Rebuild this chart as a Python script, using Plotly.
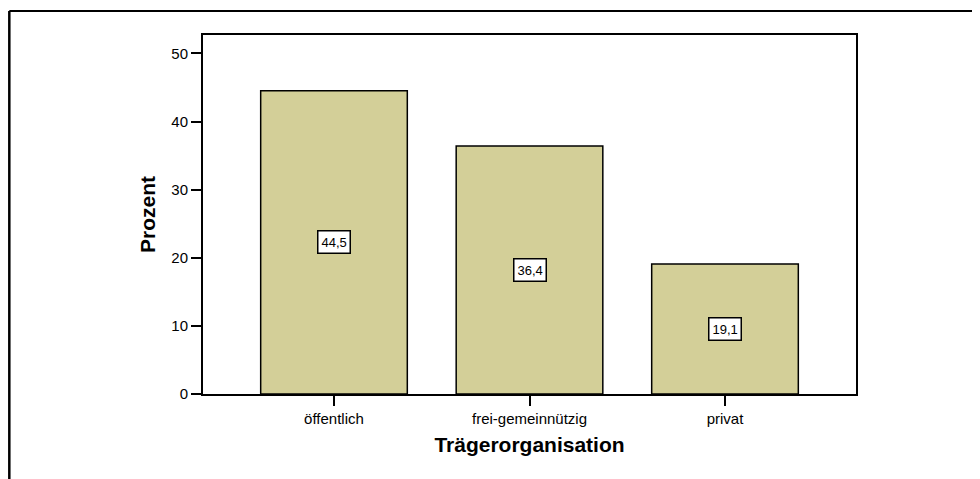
import plotly.graph_objects as go

categories = ["öffentlich", "frei-gemeinnützig", "privat"]
percent = [44.5, 36.4, 19.1]
labels = ["44,5", "36,4", "19,1"]
y_ticks = [0, 10, 20, 30, 40, 50]

font = "Liberation Sans, Arial, sans-serif"

fig = go.Figure()
fig.add_trace(go.Bar(
    x=categories, y=percent, width=0.75,
    marker=dict(color="#d3cf98", line=dict(color="black", width=1.5)),
    showlegend=False, hoverinfo="skip"))

for c, v, t in zip(categories, percent, labels):
    fig.add_annotation(x=c, y=v / 2, text=t, showarrow=False,
                       font=dict(family=font, size=13, color="black"),
                       bgcolor="white", bordercolor="black", borderwidth=1.5,
                       borderpad=3)

# outer frame (only top and left edges are visible)
fig.add_shape(type="line", xref="paper", yref="paper",
              x0=-0.2966, x1=1.3, y0=1.0669, y1=1.0669,
              line=dict(color="black", width=2))
fig.add_shape(type="line", xref="paper", yref="paper",
              x0=-0.2966, x1=-0.2966, y0=1.0669, y1=-0.4,
              line=dict(color="black", width=2.5))

fig.update_layout(
    width=972, height=471,
    margin=dict(l=195, r=124, t=27, b=85),
    plot_bgcolor="white", paper_bgcolor="white",
    font=dict(family=font, size=15, color="black"),
    xaxis=dict(
        type="category", range=[-0.67, 2.67],
        showline=True, mirror=True, linecolor="black", linewidth=2,
        ticks="outside", ticklen=10, tickcolor="black", tickwidth=1.5,
        tickfont=dict(family=font, size=15),
        title=dict(text="<b>Trägerorganisation</b>",
                   font=dict(family=font, size=21), standoff=11),
    ),
    yaxis=dict(
        range=[0, 52.7], tickvals=y_ticks,
        showline=True, mirror=True, linecolor="black", linewidth=2,
        ticks="outside", ticklen=10, tickcolor="black", tickwidth=1.5,
        showgrid=False, zeroline=False,
        tickfont=dict(family=font, size=15),
        title=dict(text="<b>Prozent</b>",
                   font=dict(family=font, size=21), standoff=10),
    ),
)

fig.write_html("out.html")
